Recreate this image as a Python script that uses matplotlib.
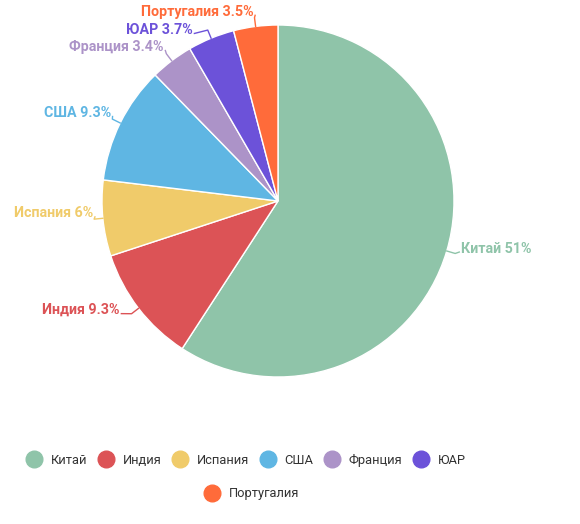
import matplotlib.pyplot as plt
import numpy as np
from matplotlib.lines import Line2D

plt.rcParams["font.family"] = ["Roboto", "DejaVu Sans"]

countries = ["Китай", "Индия", "Испания", "США", "Франция", "ЮАР", "Португалия"]
values = [51, 9.3, 6, 9.3, 3.4, 3.7, 3.5]
colors = ["#8fc4a9", "#dc5356", "#f0cb6a", "#5fb6e3", "#ac93c8", "#6c52d9", "#ff6b3a"]

# label anchors in pie units (radius = 1)
label_pos = [(1.04, -0.27), (-0.90, -0.62), (-1.05, -0.07), (-0.95, 0.50),
             (-0.65, 0.875), (-0.485, 0.972), (-0.14, 1.075)]

W, H = 580, 524
cx, cy, r = 278, 201, 176

fig = plt.figure(figsize=(W / 100, H / 100), dpi=100)
ax = fig.add_axes([(cx - r) / W, (H - cy - r) / H, 2 * r / W, 2 * r / H])

wedges, _ = ax.pie(values, colors=colors, startangle=90, counterclock=False,
                   radius=1, wedgeprops=dict(edgecolor="white", linewidth=1))
ax.set_xlim(-1, 1)
ax.set_ylim(-1, 1)
ax.set_aspect("equal")
ax.axis("off")

for w, name, val, col, (tx, ty) in zip(wedges, countries, values, colors, label_pos):
    ang = np.deg2rad((w.theta1 + w.theta2) / 2)
    ex, ey = np.cos(ang), np.sin(ang)
    mx, my = 1.05 * ex, 1.05 * ey
    ha = "left" if tx > 0 else "right"
    gap = 0.01 if tx > 0 else -0.01
    ax.plot([ex, mx, tx - gap], [ey, my, ty - 0.02], color=col, lw=1, clip_on=False)
    ax.text(tx, ty, f"{name} {val:g}%", color=col, fontsize=10.3, fontweight="bold",
            ha=ha, va="center", clip_on=False)

handles = [Line2D([], [], marker="o", linestyle="none", markersize=12,
                  markerfacecolor=c, markeredgecolor=c) for c in colors]
leg_kw = dict(frameon=False, fontsize=9.3, handletextpad=0.7, columnspacing=0.85,
              handlelength=1.2, labelcolor="#333333")
fig.legend(handles[:6], countries[:6], ncol=6, loc="center",
           bbox_to_anchor=(246 / W, 1 - 460 / H), **leg_kw)
fig.legend(handles[6:], countries[6:], ncol=1, loc="center",
           bbox_to_anchor=(252 / W, 1 - 494 / H), **leg_kw)

fig.savefig("out.png", dpi=100)
